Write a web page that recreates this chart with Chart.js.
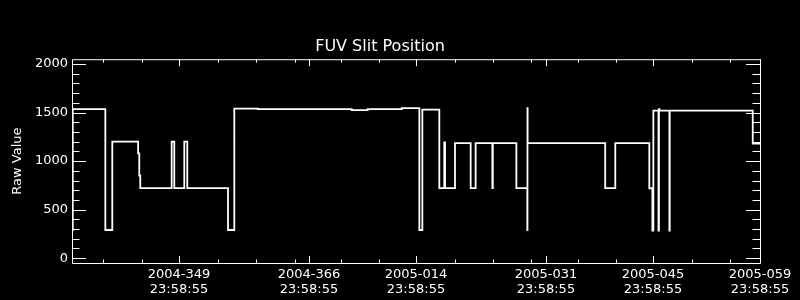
<!DOCTYPE html>
<html>
<head>
<meta charset="utf-8">
<script src="https://cdn.jsdelivr.net/npm/chart.js@4/dist/chart.umd.min.js"></script>
<style>
  html, body { margin: 0; padding: 0; background: #000; }
  canvas { display: block; }
</style>
</head>
<body>
<canvas id="slit-chart" width="800" height="300"></canvas>
<script>
// x is a day number counted through 2004 (2005-014 = day 380)
const changeDays = [335.00, 335.10, 339.36, 340.27, 343.65, 343.80, 343.93, 348.04, 348.38, 349.69,
                    350.08, 355.41, 356.23, 359.30, 371.59, 373.68, 378.13, 380.44, 380.83, 383.05,
                    383.70, 383.80, 385.10, 387.15, 387.80, 389.99, 390.05, 393.13, 394.56, 394.58,
                    394.60, 404.75, 406.07, 410.52, 410.92, 411.05, 411.72, 411.78, 411.84, 413.15,
                    413.19, 424.05, 425.00];
const rawValues = [290, 1535, 290, 1200, 1080, 850, 722, 1200, 722, 1200,
                   722, 290, 1540, 1535, 1525, 1535, 1545, 290, 1530, 722,
                   1192, 722, 1185, 722, 1185, 722, 1185, 722, 290, 1545,
                   1185, 722, 1185, 720, 285, 1520, 285, 1535, 1520, 285,
                   1520, 1180, 1180];

const labelDays = [349, 366, 380, 397, 411, 425];
const labelDates = ["2004-349", "2004-366", "2005-014", "2005-031", "2005-045", "2005-059"];
const labelTime = "23:58:55";
const minorDays = [339.1, 344.1, 354.1, 359.1, 364.2, 370.2, 375.2, 385.1, 390.1, 395.1, 401.2, 406.2, 416.1, 421.1];
const yMajor = [0, 500, 1000, 1500, 2000];
const yMinor = [100, 200, 300, 400, 600, 700, 800, 900, 1100, 1200, 1300, 1400, 1600, 1700, 1800, 1900];

const fontColor = "#fff";
const fontFamily = "'DejaVu Sans', sans-serif";

// IDL style box with inward ticks on all four sides
const axisBox = {
    id: 'axisBox',
    afterDraw(chart) {
        const { ctx, chartArea: a, scales: { x, y } } = chart;
        ctx.save();
        ctx.strokeStyle = fontColor;
        ctx.lineWidth = 1;
        ctx.beginPath();
        ctx.rect(a.left + 0.5, a.top + 0.5, a.right - a.left, a.bottom - a.top);
        const xTick = (v, len) => {
            const px = Math.round(x.getPixelForValue(v)) + 0.5;
            ctx.moveTo(px, a.bottom); ctx.lineTo(px, a.bottom - len);
            ctx.moveTo(px, a.top); ctx.lineTo(px, a.top + len);
        };
        const yTick = (v, len) => {
            const py = Math.round(y.getPixelForValue(v)) + 0.5;
            ctx.moveTo(a.left, py); ctx.lineTo(a.left + len, py);
            ctx.moveTo(a.right, py); ctx.lineTo(a.right - len, py);
        };
        labelDays.forEach(v => xTick(v, 7));
        minorDays.forEach(v => xTick(v, 3.5));
        yMajor.forEach(v => yTick(v, 14));
        yMinor.forEach(v => yTick(v, 7.5));
        ctx.stroke();
        ctx.restore();
    }
};

const ctx = document.getElementById('slit-chart').getContext('2d');
const chart = new Chart(ctx, {
    type: 'line',
    data: {
        datasets: [{
            data: changeDays.map((d, i) => ({ x: d, y: rawValues[i] })),
            borderColor: fontColor,
            borderWidth: 1.8,
            pointRadius: 0,
            stepped: true,
            fill: false
        }]
    },
    options: {
        responsive: false,
        animation: false,
        layout: { padding: { left: 0, right: 40, top: 0, bottom: 0 } },
        plugins: {
            legend: { display: false },
            tooltip: { enabled: false },
            title: {
                display: true,
                text: 'FUV Slit Position',
                color: fontColor,
                font: { family: fontFamily, size: 16, weight: 'normal', lineHeight: 1.2 },
                padding: { top: 37, bottom: 3 }
            }
        },
        scales: {
            x: {
                type: 'linear',
                min: 335,
                max: 425,
                grid: { display: false, drawTicks: false },
                border: { display: false },
                afterBuildTicks: s => { s.ticks = labelDays.map(v => ({ value: v })); },
                afterFit: s => { s.height = 37; },
                ticks: {
                    color: fontColor,
                    autoSkip: false,
                    maxRotation: 0,
                    padding: 4,
                    font: { family: fontFamily, size: 13, lineHeight: 1.15 },
                    callback: v => [labelDates[labelDays.indexOf(v)], labelTime]
                }
            },
            y: {
                min: -50,
                max: 2050,
                grid: { display: false, drawTicks: false },
                border: { display: false },
                afterBuildTicks: s => { s.ticks = yMajor.map(v => ({ value: v })); },
                afterFit: s => { s.width = 72; },
                ticks: {
                    color: fontColor,
                    padding: 4,
                    font: { family: fontFamily, size: 13 },
                    callback: v => String(v)
                },
                title: {
                    display: true,
                    text: 'Raw Value',
                    color: fontColor,
                    font: { family: fontFamily, size: 13, lineHeight: 1.2 },
                    padding: { top: 10, bottom: 0 }
                }
            }
        }
    },
    plugins: [axisBox]
});
</script>
</body>
</html>
